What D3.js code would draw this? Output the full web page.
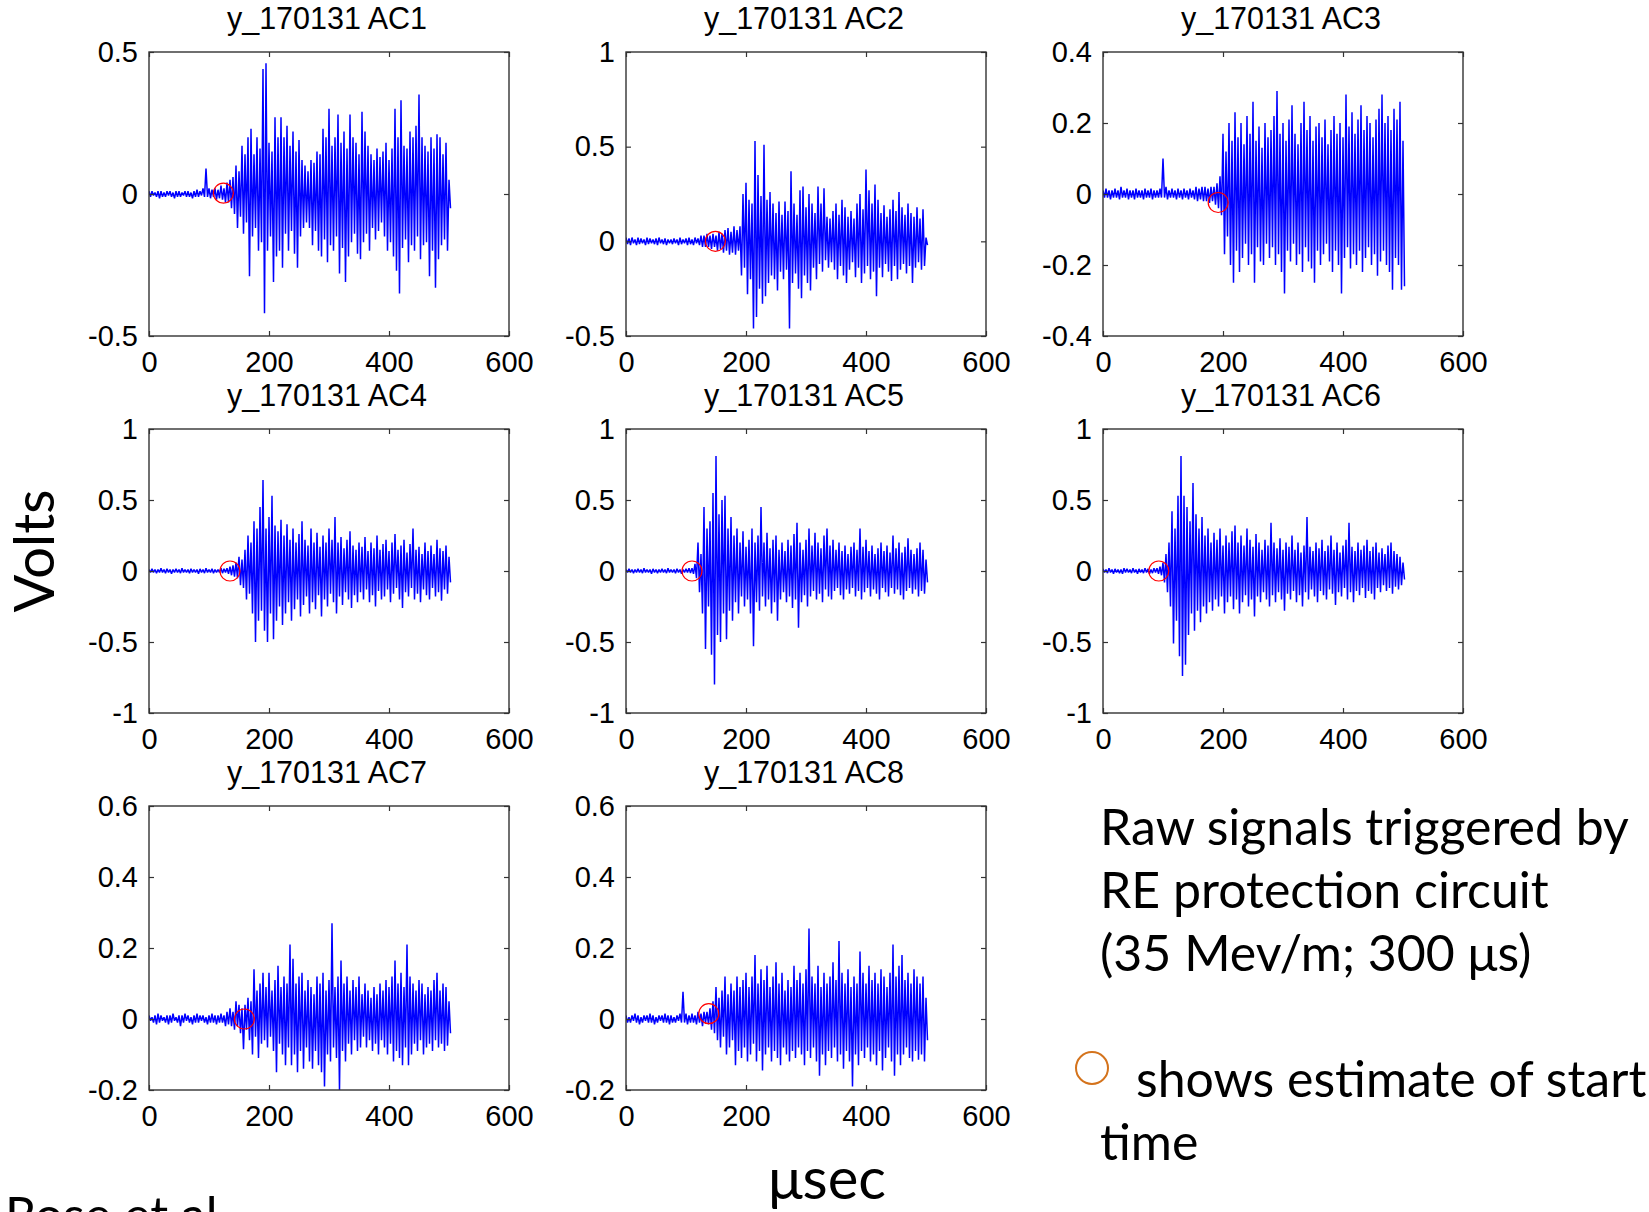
<!DOCTYPE html>
<html>
<head>
<meta charset="utf-8">
<script src="https://cdn.jsdelivr.net/npm/d3@7"></script>
<style>
  body { margin: 0; background: #fff; }
  svg { display: block; }
</style>
</head>
<body>
<svg id="chart" width="1649" height="1212"></svg>
<script>
//sampling of the signal envelopes (usec between bins)
var tStep = 5;
var xDomain = [0, 600];
var xTicks = [0, 200, 400, 600];

var names = ['y_170131 AC1', 'y_170131 AC2', 'y_170131 AC3', 'y_170131 AC4',
    'y_170131 AC5', 'y_170131 AC6', 'y_170131 AC7', 'y_170131 AC8'];

var yDomains = [[-0.5, 0.5], [-0.5, 1], [-0.4, 0.4], [-1, 1],
    [-1, 1], [-1, 1], [-0.2, 0.6], [-0.2, 0.6]];

var yTicks = [
    [-0.5, 0, 0.5],
    [-0.5, 0, 0.5, 1],
    [-0.4, -0.2, 0, 0.2, 0.4],
    [-1, -0.5, 0, 0.5, 1],
    [-1, -0.5, 0, 0.5, 1],
    [-1, -0.5, 0, 0.5, 1],
    [-0.2, 0, 0.2, 0.4, 0.6],
    [-0.2, 0, 0.2, 0.4, 0.6]
];

//estimated start time [usec, volts]
var starts = [[124, 0.003], [149, 0], [192, -0.024], [135, 0],
    [110, 0], [93, 0], [159, 0], [138, 0.015]];

//upper / lower peaks per bin, volts
var ac1Hi = [0.01,0.01,0.005,0.01,0.01,0.005,0.01,0.01,0.005,0.01,0.01,0.005,0.01,0.01,0.005,0.01,0.015,0.01,0.02,0.09,
    0.02,0.015,0.02,0.015,0.03,0.02,0.04,0.05,0.06,0.1,0.08,0.17,0.14,0.2,0.23,0.14,0.2,0.16,0.44,0.46,
    0.18,0.15,0.27,0.2,0.27,0.2,0.24,0.17,0.22,0.15,0.19,0.12,0.1,0.08,0.12,0.11,0.15,0.14,0.23,0.2,
    0.3,0.17,0.2,0.28,0.18,0.22,0.16,0.28,0.2,0.18,0.14,0.29,0.22,0.17,0.14,0.12,0.16,0.13,0.15,0.18,
    0.12,0.16,0.3,0.2,0.33,0.17,0.16,0.22,0.2,0.24,0.35,0.2,0.17,0.15,0.2,0.16,0.21,0.2,0.14,0.18,0.05];
var ac1Lo = [-0.01,-0.005,-0.01,-0.015,-0.01,-0.01,-0.005,-0.01,-0.015,-0.01,-0.01,-0.005,-0.01,-0.01,-0.015,-0.01,-0.01,-0.005,-0.01,-0.01,
    -0.015,-0.01,-0.02,-0.015,-0.02,-0.03,-0.03,-0.05,-0.07,-0.12,-0.08,-0.14,-0.1,-0.29,-0.15,-0.12,-0.2,-0.17,-0.42,-0.2,
    -0.15,-0.31,-0.22,-0.2,-0.26,-0.14,-0.2,-0.13,-0.21,-0.26,-0.15,-0.12,-0.1,-0.12,-0.18,-0.13,-0.2,-0.22,-0.16,-0.24,
    -0.18,-0.2,-0.15,-0.28,-0.19,-0.31,-0.22,-0.17,-0.14,-0.21,-0.23,-0.17,-0.14,-0.2,-0.12,-0.16,-0.13,-0.1,-0.15,-0.2,
    -0.17,-0.22,-0.27,-0.35,-0.19,-0.16,-0.24,-0.18,-0.2,-0.15,-0.23,-0.18,-0.17,-0.29,-0.2,-0.33,-0.23,-0.18,-0.16,-0.2,-0.05];

var ac2Hi = [0.02,0.015,0.02,0.01,0.02,0.015,0.01,0.02,0.015,0.01,0.015,0.02,0.01,0.015,0.01,0.01,0.015,0.01,0.02,0.01,
    0.015,0.02,0.01,0.02,0.015,0.03,0.03,0.04,0.03,0.04,0.03,0.05,0.04,0.06,0.07,0.05,0.08,0.06,0.08,0.25,
    0.31,0.22,0.2,0.53,0.35,0.24,0.51,0.22,0.26,0.2,0.15,0.21,0.14,0.21,0.16,0.37,0.2,0.14,0.27,0.29,
    0.18,0.25,0.2,0.15,0.29,0.2,0.28,0.13,0.12,0.16,0.2,0.14,0.22,0.18,0.13,0.16,0.12,0.2,0.25,0.17,
    0.38,0.27,0.2,0.3,0.22,0.15,0.19,0.13,0.17,0.22,0.16,0.26,0.18,0.14,0.2,0.15,0.13,0.18,0.12,0.17,0.02];
var ac2Lo = [-0.015,-0.02,-0.01,-0.02,-0.015,-0.01,-0.02,-0.015,-0.01,-0.015,-0.02,-0.01,-0.015,-0.02,-0.01,-0.015,-0.01,-0.02,-0.015,-0.01,
    -0.02,-0.015,-0.02,-0.01,-0.02,-0.03,-0.03,-0.03,-0.04,-0.03,-0.05,-0.04,-0.06,-0.05,-0.07,-0.06,-0.07,-0.05,-0.18,-0.14,
    -0.28,-0.2,-0.46,-0.4,-0.25,-0.33,-0.29,-0.22,-0.18,-0.2,-0.26,-0.16,-0.2,-0.15,-0.46,-0.22,-0.17,-0.25,-0.3,-0.18,
    -0.22,-0.26,-0.14,-0.2,-0.12,-0.16,-0.1,-0.14,-0.11,-0.15,-0.2,-0.13,-0.18,-0.22,-0.15,-0.11,-0.19,-0.14,-0.22,-0.17,
    -0.13,-0.2,-0.16,-0.29,-0.14,-0.19,-0.12,-0.16,-0.21,-0.13,-0.2,-0.15,-0.12,-0.17,-0.13,-0.22,-0.14,-0.11,-0.15,-0.13,-0.02];

var ac3Hi = [0.01,0.015,0.01,0.01,0.015,0.01,0.02,0.01,0.015,0.01,0.01,0.015,0.01,0.01,0.015,0.01,0.015,0.01,0.01,0.015,
    0.1,0.02,0.01,0.015,0.01,0.015,0.01,0.015,0.01,0.015,0.01,0.02,0.015,0.02,0.02,0.015,0.02,0.02,0.03,0.05,
    0.17,0.12,0.2,0.15,0.23,0.16,0.2,0.14,0.22,0.17,0.26,0.15,0.19,0.13,0.2,0.16,0.18,0.22,0.29,0.17,
    0.2,0.15,0.21,0.25,0.17,0.14,0.2,0.26,0.18,0.22,0.15,0.19,0.2,0.16,0.21,0.14,0.18,0.22,0.17,0.2,
    0.16,0.28,0.19,0.23,0.17,0.21,0.25,0.18,0.22,0.2,0.16,0.21,0.24,0.28,0.2,0.22,0.18,0.24,0.21,0.26,0.15];
var ac3Lo = [-0.01,-0.01,-0.015,-0.01,-0.01,-0.015,-0.01,-0.01,-0.015,-0.01,-0.015,-0.01,-0.01,-0.015,-0.01,-0.01,-0.015,-0.01,-0.01,-0.01,
    -0.01,-0.015,-0.01,-0.01,-0.015,-0.01,-0.015,-0.01,-0.015,-0.01,-0.015,-0.02,-0.015,-0.02,-0.02,-0.025,-0.02,-0.03,-0.04,-0.06,
    -0.17,-0.12,-0.2,-0.25,-0.16,-0.22,-0.18,-0.14,-0.2,-0.17,-0.25,-0.15,-0.19,-0.2,-0.14,-0.18,-0.15,-0.2,-0.17,-0.22,
    -0.28,-0.16,-0.19,-0.14,-0.2,-0.17,-0.22,-0.15,-0.19,-0.21,-0.25,-0.16,-0.2,-0.17,-0.14,-0.19,-0.22,-0.16,-0.2,-0.28,
    -0.18,-0.15,-0.21,-0.17,-0.2,-0.16,-0.22,-0.18,-0.15,-0.2,-0.17,-0.23,-0.19,-0.16,-0.2,-0.22,-0.27,-0.18,-0.2,-0.27,-0.26];

var ac4Hi = [0.01,0.015,0.01,0.01,0.02,0.01,0.015,0.01,0.01,0.015,0.01,0.02,0.01,0.01,0.015,0.01,0.01,0.015,0.01,0.02,
    0.01,0.015,0.01,0.01,0.02,0.015,0.02,0.03,0.04,0.06,0.1,0.08,0.15,0.25,0.2,0.35,0.3,0.45,0.64,0.3,
    0.38,0.53,0.32,0.28,0.36,0.25,0.33,0.22,0.3,0.2,0.26,0.35,0.22,0.18,0.3,0.2,0.27,0.17,0.25,0.2,
    0.3,0.22,0.38,0.2,0.24,0.16,0.22,0.28,0.18,0.15,0.2,0.17,0.24,0.14,0.2,0.16,0.25,0.15,0.19,0.22,
    0.14,0.2,0.26,0.15,0.18,0.22,0.13,0.19,0.3,0.15,0.17,0.12,0.2,0.14,0.18,0.12,0.22,0.16,0.14,0.18,0.1];
var ac4Lo = [-0.01,-0.01,-0.015,-0.01,-0.01,-0.015,-0.01,-0.02,-0.01,-0.01,-0.015,-0.01,-0.01,-0.015,-0.01,-0.01,-0.02,-0.01,-0.015,-0.01,
    -0.01,-0.015,-0.01,-0.01,-0.015,-0.01,-0.02,-0.03,-0.04,-0.05,-0.1,-0.12,-0.2,-0.16,-0.3,-0.5,-0.35,-0.28,-0.42,-0.5,
    -0.3,-0.48,-0.35,-0.25,-0.38,-0.3,-0.22,-0.35,-0.27,-0.2,-0.32,-0.24,-0.18,-0.3,-0.22,-0.27,-0.17,-0.32,-0.2,-0.25,
    -0.16,-0.22,-0.3,-0.18,-0.24,-0.15,-0.2,-0.26,-0.17,-0.22,-0.15,-0.2,-0.13,-0.22,-0.17,-0.25,-0.14,-0.2,-0.18,-0.13,
    -0.22,-0.16,-0.12,-0.2,-0.26,-0.15,-0.18,-0.12,-0.2,-0.16,-0.22,-0.13,-0.17,-0.2,-0.12,-0.18,-0.15,-0.21,-0.13,-0.16,-0.08];

var ac5Hi = [0.01,0.015,0.01,0.01,0.015,0.01,0.02,0.01,0.01,0.015,0.01,0.01,0.015,0.01,0.02,0.01,0.01,0.015,0.01,0.01,
    0.015,0.02,0.02,0.05,0.2,0.12,0.45,0.3,0.35,0.55,0.81,0.4,0.5,0.53,0.3,0.38,0.25,0.3,0.2,0.28,
    0.17,0.22,0.3,0.2,0.25,0.45,0.2,0.27,0.16,0.22,0.25,0.15,0.2,0.14,0.22,0.18,0.26,0.34,0.2,0.15,
    0.22,0.3,0.18,0.27,0.2,0.16,0.25,0.3,0.18,0.22,0.15,0.2,0.14,0.18,0.12,0.17,0.2,0.15,0.3,0.17,
    0.22,0.14,0.18,0.12,0.16,0.2,0.14,0.18,0.13,0.25,0.16,0.2,0.13,0.17,0.23,0.15,0.12,0.16,0.2,0.15,0.08];
var ac5Lo = [-0.01,-0.01,-0.015,-0.01,-0.01,-0.015,-0.01,-0.01,-0.02,-0.01,-0.015,-0.01,-0.01,-0.015,-0.01,-0.01,-0.015,-0.01,-0.02,-0.01,
    -0.01,-0.015,-0.02,-0.05,-0.15,-0.3,-0.55,-0.25,-0.59,-0.8,-0.45,-0.5,-0.3,-0.48,-0.28,-0.35,-0.22,-0.3,-0.18,-0.25,
    -0.2,-0.3,-0.53,-0.22,-0.28,-0.18,-0.25,-0.2,-0.3,-0.22,-0.35,-0.2,-0.15,-0.22,-0.18,-0.26,-0.2,-0.4,-0.22,-0.17,
    -0.25,-0.18,-0.14,-0.2,-0.16,-0.22,-0.13,-0.18,-0.2,-0.14,-0.12,-0.17,-0.2,-0.13,-0.16,-0.12,-0.18,-0.14,-0.2,-0.15,
    -0.12,-0.18,-0.13,-0.16,-0.2,-0.12,-0.15,-0.18,-0.12,-0.16,-0.13,-0.17,-0.2,-0.14,-0.12,-0.16,-0.13,-0.18,-0.14,-0.16,-0.08];

var ac6Hi = [0.015,0.01,0.02,0.01,0.015,0.01,0.01,0.02,0.015,0.01,0.02,0.01,0.015,0.01,0.02,0.015,0.01,0.02,0.02,0.03,
    0.06,0.12,0.2,0.42,0.3,0.53,0.81,0.53,0.45,0.35,0.62,0.4,0.3,0.38,0.25,0.3,0.2,0.27,0.22,0.3,
    0.18,0.25,0.2,0.28,0.32,0.2,0.25,0.18,0.3,0.22,0.17,0.26,0.2,0.15,0.22,0.18,0.34,0.2,0.16,0.23,
    0.15,0.2,0.17,0.25,0.15,0.2,0.13,0.18,0.38,0.17,0.14,0.2,0.16,0.22,0.14,0.18,0.25,0.15,0.2,0.13,
    0.18,0.22,0.34,0.17,0.14,0.2,0.15,0.18,0.22,0.14,0.17,0.2,0.13,0.16,0.12,0.18,0.2,0.14,0.12,0.1,0.06];
var ac6Lo = [-0.01,-0.015,-0.01,-0.02,-0.01,-0.015,-0.02,-0.01,-0.01,-0.015,-0.01,-0.02,-0.01,-0.015,-0.01,-0.02,-0.015,-0.01,-0.02,-0.03,
    -0.08,-0.15,-0.25,-0.51,-0.35,-0.6,-0.74,-0.66,-0.45,-0.3,-0.42,-0.28,-0.36,-0.25,-0.3,-0.22,-0.28,-0.2,-0.25,-0.18,
    -0.3,-0.22,-0.18,-0.27,-0.2,-0.3,-0.22,-0.17,-0.25,-0.2,-0.32,-0.18,-0.22,-0.15,-0.2,-0.25,-0.17,-0.22,-0.15,-0.2,
    -0.28,-0.16,-0.2,-0.14,-0.22,-0.17,-0.25,-0.15,-0.2,-0.13,-0.18,-0.22,-0.14,-0.17,-0.2,-0.13,-0.16,-0.24,-0.15,-0.18,
    -0.12,-0.2,-0.15,-0.22,-0.14,-0.17,-0.12,-0.19,-0.14,-0.16,-0.2,-0.12,-0.15,-0.1,-0.14,-0.12,-0.16,-0.11,-0.13,-0.1,-0.06];

var ac7Hi = [0.01,0.005,0.01,0.015,0.01,0.005,0.01,0.01,0.015,0.005,0.01,0.01,0.015,0.01,0.005,0.01,0.015,0.01,0.01,0.005,
    0.01,0.015,0.01,0.01,0.015,0.01,0.02,0.03,0.02,0.05,0.04,0.03,0.04,0.06,0.05,0.14,0.08,0.1,0.13,0.09,
    0.13,0.08,0.11,0.15,0.09,0.12,0.1,0.21,0.17,0.1,0.12,0.13,0.08,0.11,0.09,0.07,0.12,0.1,0.13,0.08,
    0.11,0.27,0.09,0.12,0.165,0.1,0.12,0.08,0.11,0.09,0.12,0.07,0.1,0.08,0.06,0.09,0.07,0.1,0.08,0.11,
    0.09,0.12,0.165,0.1,0.13,0.09,0.21,0.12,0.1,0.08,0.11,0.1,0.07,0.09,0.08,0.11,0.13,0.08,0.1,0.09,0.05];
var ac7Lo = [-0.005,-0.01,-0.015,-0.01,-0.005,-0.01,-0.015,-0.01,-0.005,-0.01,-0.02,-0.01,-0.005,-0.01,-0.015,-0.01,-0.01,-0.005,-0.01,-0.015,
    -0.01,-0.01,-0.015,-0.01,-0.01,-0.02,-0.015,-0.02,-0.03,-0.02,-0.04,-0.085,-0.03,-0.06,-0.1,-0.05,-0.11,-0.07,-0.06,-0.08,
    -0.05,-0.09,-0.15,-0.07,-0.1,-0.13,-0.08,-0.13,-0.1,-0.15,-0.09,-0.14,-0.08,-0.12,-0.14,-0.09,-0.13,-0.15,-0.19,-0.1,
    -0.12,-0.08,-0.11,-0.2,-0.09,-0.12,-0.07,-0.1,-0.06,-0.09,-0.08,-0.05,-0.08,-0.06,-0.09,-0.07,-0.1,-0.06,-0.08,-0.1,
    -0.07,-0.12,-0.09,-0.11,-0.13,-0.08,-0.13,-0.1,-0.07,-0.09,-0.06,-0.1,-0.08,-0.07,-0.09,-0.06,-0.08,-0.07,-0.09,-0.075,-0.04];

var ac8Hi = [0.01,0.005,0.01,0.015,0.01,0.005,0.01,0.01,0.015,0.01,0.005,0.01,0.01,0.015,0.01,0.01,0.005,0.01,0.015,0.077,
    0.015,0.01,0.015,0.01,0.02,0.015,0.02,0.02,0.03,0.05,0.09,0.06,0.08,0.12,0.07,0.1,0.08,0.12,0.09,0.11,
    0.13,0.09,0.12,0.18,0.1,0.14,0.11,0.15,0.09,0.12,0.16,0.1,0.13,0.08,0.11,0.09,0.15,0.11,0.13,0.1,
    0.14,0.255,0.12,0.1,0.15,0.09,0.13,0.1,0.12,0.16,0.11,0.22,0.13,0.1,0.14,0.09,0.12,0.1,0.19,0.13,
    0.1,0.15,0.11,0.13,0.1,0.14,0.12,0.09,0.13,0.21,0.12,0.15,0.18,0.11,0.13,0.1,0.14,0.12,0.1,0.12,0.06];
var ac8Lo = [-0.01,-0.01,-0.005,-0.01,-0.015,-0.01,-0.005,-0.01,-0.01,-0.015,-0.01,-0.005,-0.01,-0.01,-0.015,-0.01,-0.01,-0.005,-0.01,-0.01,
    -0.015,-0.01,-0.01,-0.015,-0.01,-0.02,-0.01,-0.015,-0.03,-0.04,-0.06,-0.08,-0.05,-0.1,-0.08,-0.06,-0.13,-0.09,-0.11,-0.08,
    -0.12,-0.1,-0.07,-0.12,-0.09,-0.145,-0.1,-0.08,-0.12,-0.09,-0.11,-0.13,-0.08,-0.1,-0.12,-0.09,-0.11,-0.08,-0.1,-0.13,
    -0.09,-0.11,-0.08,-0.12,-0.16,-0.1,-0.13,-0.09,-0.11,-0.08,-0.12,-0.1,-0.14,-0.09,-0.12,-0.19,-0.1,-0.13,-0.09,-0.11,
    -0.08,-0.12,-0.1,-0.13,-0.09,-0.145,-0.11,-0.08,-0.12,-0.16,-0.1,-0.13,-0.1,-0.08,-0.11,-0.12,-0.09,-0.115,-0.1,-0.12,-0.06];

var highs = [ac1Hi, ac2Hi, ac3Hi, ac4Hi, ac5Hi, ac6Hi, ac7Hi, ac8Hi];
var lows = [ac1Lo, ac2Lo, ac3Lo, ac4Lo, ac5Lo, ac6Lo, ac7Lo, ac8Lo];

//side texts
var noteLines = ['Raw signals triggered by', 'RE protection circuit', '(35 Mev/m; 300 \u03bcs)'];
var legendLines = ['shows estimate of start', 'time'];

//layout
var P = {
    left: [149, 626, 1103],
    top: [52, 429, 806],
    w: 360,
    h: 284
};
var axisFont = '"Liberation Sans", Arial, sans-serif';
var textFont = 'Lato, "Open Sans", sans-serif';

var svg = d3.select('#chart');
var fmt = function (d) { return String(d); };

names.forEach(function (name, k) {
    var ox = P.left[k % 3], oy = P.top[Math.floor(k / 3)];
    var x = d3.scaleLinear().domain(xDomain).range([0, P.w]);
    var y = d3.scaleLinear().domain(yDomains[k]).range([P.h, 0]);
    var g = svg.append('g').attr('transform', 'translate(' + ox + ',' + oy + ')');

    g.append('clipPath').attr('id', 'clip' + k)
        .append('rect').attr('width', P.w).attr('height', P.h);

    //signal: alternate upper / lower peak inside each bin
    var pts = [];
    highs[k].forEach(function (v, i) {
        pts.push([i * tStep, v]);
        pts.push([i * tStep + tStep / 2, lows[k][i]]);
    });
    g.append('path')
        .attr('clip-path', 'url(#clip' + k + ')')
        .attr('d', d3.line().x(function (d) { return x(d[0]); })
            .y(function (d) { return y(d[1]); })(pts))
        .attr('fill', 'none')
        .attr('stroke', '#0000ff')
        .attr('stroke-width', 1.5)
        .attr('stroke-linejoin', 'bevel');

    g.append('circle')
        .attr('cx', x(starts[k][0]))
        .attr('cy', y(starts[k][1]))
        .attr('r', 10)
        .attr('fill', 'none')
        .attr('stroke', '#ff0000')
        .attr('stroke-width', 1.2);

    //axes, MATLAB style: ticks inward on all four sides
    var ax = [
        { a: d3.axisLeft(y).tickValues(yTicks[k]).tickFormat(fmt).tickPadding(11), t: [0, 0] },
        { a: d3.axisRight(y).tickValues(yTicks[k]).tickFormat(''), t: [P.w, 0] },
        { a: d3.axisBottom(x).tickValues(xTicks).tickFormat(fmt).tickPadding(15), t: [0, P.h] },
        { a: d3.axisTop(x).tickValues(xTicks).tickFormat(''), t: [0, 0] }
    ];
    ax.forEach(function (o) {
        var ag = g.append('g')
            .attr('transform', 'translate(' + o.t[0] + ',' + o.t[1] + ')')
            .call(o.a.tickSize(-5));
        ag.select('.domain').remove();
        ag.selectAll('line').attr('stroke', '#333').attr('stroke-width', 1.2);
        ag.selectAll('text').attr('font-size', 29).attr('font-family', axisFont).attr('fill', '#000');
    });

    g.append('rect')
        .attr('width', P.w).attr('height', P.h)
        .attr('fill', 'none')
        .attr('stroke', '#333')
        .attr('stroke-width', 1.4);

    g.append('text')
        .attr('x', P.w / 2 - 2).attr('y', -23)
        .attr('text-anchor', 'middle')
        .attr('font-family', axisFont)
        .attr('font-size', 30.5)
        .text(name);
});

//axis names
svg.append('text')
    .attr('transform', 'translate(54,551) rotate(-90)')
    .attr('text-anchor', 'middle')
    .attr('font-family', textFont)
    .attr('font-size', 56)
    .text('Volts');

svg.append('text')
    .attr('x', 827).attr('y', 1199)
    .attr('text-anchor', 'middle')
    .attr('font-family', textFont)
    .attr('font-size', 58)
    .text('\u03bcsec');

svg.append('text')
    .attr('x', 5).attr('y', 1233)
    .attr('font-family', textFont)
    .attr('font-size', 50)
    .text('Rose et al.');

//notes on the right
svg.selectAll('.note').data(noteLines).enter().append('text')
    .attr('class', 'note')
    .attr('x', 1100)
    .attr('y', function (d, i) { return 845 + i * 63; })
    .attr('font-family', textFont)
    .attr('font-size', 50)
    .text(function (d) { return d; });

svg.append('circle')
    .attr('cx', 1092).attr('cy', 1068).attr('r', 16)
    .attr('fill', 'none')
    .attr('stroke', '#d4731c')
    .attr('stroke-width', 2);

svg.selectAll('.legend').data(legendLines).enter().append('text')
    .attr('class', 'legend')
    .attr('x', function (d, i) { return i === 0 ? 1136 : 1100; })
    .attr('y', function (d, i) { return 1097 + i * 63; })
    .attr('font-family', textFont)
    .attr('font-size', 50)
    .text(function (d) { return d; });
</script>
</body>
</html>
